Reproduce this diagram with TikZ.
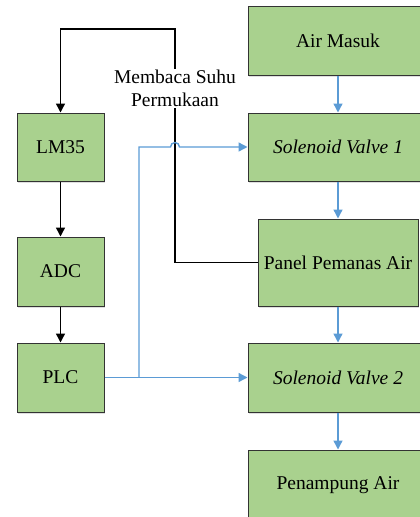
\documentclass[tikz,border=0pt]{standalone}
\usepackage{fontspec}
\setmainfont{Liberation Serif}
\newfontfamily\diagfont{Liberation Serif}
\usetikzlibrary{arrows.meta,shadows}
\definecolor{boxfill}{HTML}{A9D18E}
\definecolor{boxline}{HTML}{333333}
\definecolor{flow}{HTML}{5B9BD5}
\tikzset{
  box/.style={draw=boxline, line width=1pt, fill=boxfill, inner sep=0pt,
    minimum width=#1, drop shadow={shadow xshift=1pt, shadow yshift=-1.5pt, fill=black!25, opacity=0.5},
    font=\diagfont\fontsize{19.5}{22}\selectfont},
  box/.default=180pt,
  ctl/.style={line width=1.4pt, black, -{Triangle[length=9pt,width=9pt]}},
  water/.style={line width=1.4pt, flow, -{Triangle[length=9pt,width=9pt]}},
}
\begin{document}
\begin{tikzpicture}[x=1pt,y=-1pt]
\useasboundingbox (0,0) rectangle (420,517);
% right column
\node[box, minimum height=69pt] (air) at (338,40.5) {Air Masuk};
\node[box, minimum height=68pt] (sv1) at (338,147) {\itshape Solenoid Valve 1};
\node[box=160pt, minimum height=87pt] (panel) at (338,262.5) {Panel Pemanas Air};
\node[box, minimum height=69pt] (sv2) at (338,377.5) {\itshape Solenoid Valve 2};
\node[box, minimum height=70pt] (pen) at (338,485) {Penampung Air};
% left column
\node[box=87pt, minimum height=68pt] (lm35) at (60.5,147) {LM35};
\node[box=87pt, minimum height=69pt] (adc) at (60.5,271.5) {ADC};
\node[box=87pt, minimum height=69pt] (plc) at (60.5,377.5) {PLC};
% water flow
\draw[water] (air) -- (sv1);
\draw[water] (sv1) -- (panel);
\draw[water] (panel) -- (sv2);
\draw[water] (sv2) -- (pen);
% control chain
\draw[ctl] (lm35) -- (adc);
\draw[ctl] (adc) -- (plc);
% feedback loop
\coordinate (fb1) at (175,262.5);
\coordinate (fb2) at (175,29);
\coordinate (fb3) at (60.5,29);
\draw[ctl] (panel.west) -- (fb1) -- (fb2) -- (fb3) -- (lm35.north);
\node[fill=white, inner sep=1pt, align=center, font=\diagfont\fontsize{19.5}{23}\selectfont] (lbl) at (175,88.5) {Membaca Suhu\\Permukaan};
% PLC outputs
\coordinate (br) at (139,377.5);
\coordinate (bt) at (139,147);
\coordinate (hop) at (170.5,147);
\draw[water] (plc.east) -- (sv2.west);
\draw[water] (br) -- (bt) -- (hop) arc (180:360:4.5) -- (sv1.west);
\end{tikzpicture}
\end{document}
